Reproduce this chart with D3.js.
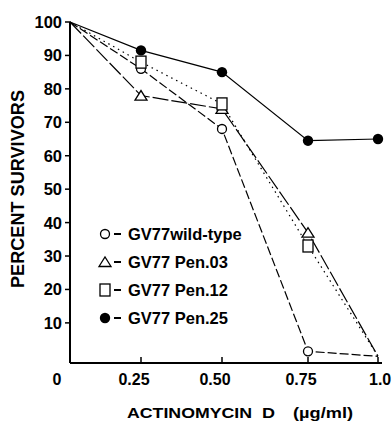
<!DOCTYPE html>
<html>
<head>
<meta charset="utf-8">
<script src="https://cdn.jsdelivr.net/npm/d3@7"></script>
<style>
  body { margin: 0; background: #fff; }
  svg { display: block; }
  text { font-family: "Liberation Sans", Arial, sans-serif; font-weight: bold; fill: #000; }
</style>
</head>
<body>
<div id="chart"></div>
<script>
// actinomycin D dose (ug/ml)
var doses = [0, 0.25, 0.5, 0.75, 1.0];
var xTicks = [0.25, 0.5, 0.75, 1.0];
var xTickLabels = ["0.25", "0.50", "0.75", "1.0"];
var yTicks = [10, 20, 30, 40, 50, 60, 70, 80, 90, 100];

// percent survivors per strain
var wildType = [100, 86, 68, 1.5, 0];
var pen03 = [100, 78, 74, 37, 0];
var pen12 = [100, 88, 75.5, 33, 0];
var pen25 = [100, 91.5, 85, 64.5, 65];

var seriesNames = ["GV77wild-type", "GV77 Pen.03", "GV77 Pen.12", "GV77 Pen.25"];

var width = 392, height = 421;

var svg = d3.select("#chart").append("svg")
    .attr("width", width)
    .attr("height", height);

// the printed axis is not evenly spaced, so use a piecewise scale
var x = d3.scaleLinear()
    .domain([0, 0.25, 0.5, 0.75, 1.0])
    .range([70, 141, 222, 308, 378]);

var y = d3.scaleLinear()
    .domain([-2, 100])
    .range([363, 22]);

var series = [
  { name: seriesNames[0], values: wildType, marker: "circle", dash: "9,3" },
  { name: seriesNames[1], values: pen03, marker: "triangle", dash: "16,3" },
  { name: seriesNames[2], values: pen12, marker: "square", dash: "1.5,4" },
  { name: seriesNames[3], values: pen25, marker: "dot", dash: null }
];

// axes
svg.append("line")
    .attr("x1", x(0)).attr("x2", x(0))
    .attr("y1", y(100)).attr("y2", y(-2))
    .attr("stroke", "#000").attr("stroke-width", 2);
svg.append("line")
    .attr("x1", x(0)).attr("x2", x(1) + 4)
    .attr("y1", y(-2)).attr("y2", y(-2))
    .attr("stroke", "#000").attr("stroke-width", 2);

svg.selectAll(".ytick")
    .data(yTicks)
  .enter().append("line")
    .attr("x1", x(0) - 5).attr("x2", x(0))
    .attr("y1", function(d) { return y(d); })
    .attr("y2", function(d) { return y(d); })
    .attr("stroke", "#000").attr("stroke-width", 1.5);

svg.selectAll(".ylabel")
    .data(yTicks)
  .enter().append("text")
    .attr("x", x(0) - 8)
    .attr("y", function(d) { return y(d); })
    .attr("dy", "0.36em")
    .attr("text-anchor", "end")
    .attr("font-size", 16.5)
    .text(function(d) { return d; });

svg.selectAll(".xtick")
    .data(xTicks)
  .enter().append("line")
    .attr("x1", function(d) { return x(d); })
    .attr("x2", function(d) { return x(d); })
    .attr("y1", y(-2) - 6).attr("y2", y(-2))
    .attr("stroke", "#000").attr("stroke-width", 1.5);

svg.selectAll(".xlabel")
    .data(xTicks)
  .enter().append("text")
    .attr("x", function(d, i) { return i == 3 ? x(d) - 9 : x(d) - 7; })
    .attr("y", 385)
    .attr("text-anchor", function(d, i) { return i == 3 ? "start" : "middle"; })
    .attr("font-size", 16)
    .text(function(d, i) { return xTickLabels[i]; });

svg.append("text")
    .attr("x", 57).attr("y", 385)
    .attr("text-anchor", "middle")
    .attr("font-size", 16)
    .text("0");

// axis titles
svg.append("text")
    .attr("transform", "translate(24,189) rotate(-90)")
    .attr("text-anchor", "middle")
    .attr("font-size", 18)
    .attr("textLength", 198)
    .attr("lengthAdjust", "spacingAndGlyphs")
    .text("PERCENT  SURVIVORS");

var xTitle = svg.append("g").attr("font-size", 15);
xTitle.append("text").attr("x", 127).attr("y", 418)
    .attr("textLength", 125).attr("lengthAdjust", "spacingAndGlyphs")
    .text("ACTINOMYCIN");
xTitle.append("text").attr("x", 262).attr("y", 418)
    .attr("textLength", 13).attr("lengthAdjust", "spacingAndGlyphs")
    .text("D");
xTitle.append("text").attr("x", 293).attr("y", 418)
    .attr("textLength", 60).attr("lengthAdjust", "spacingAndGlyphs")
    .text("(\u00b5g/ml)");

// lines
var line = d3.line()
    .x(function(d, i) { return x(doses[i]); })
    .y(function(d) { return y(d); });

svg.selectAll(".series")
    .data(series)
  .enter().append("path")
    .attr("d", function(s) { return line(s.values); })
    .attr("fill", "none")
    .attr("stroke", "#000")
    .attr("stroke-width", 1.2)
    .attr("stroke-dasharray", function(s) { return s.dash; });

function drawMarker(g, type, cx, cy) {
  if (type == "circle") {
    g.append("circle").attr("cx", cx).attr("cy", cy).attr("r", 4.5)
      .attr("fill", "#fff").attr("stroke", "#000").attr("stroke-width", 1.3);
  } else if (type == "dot") {
    g.append("circle").attr("cx", cx).attr("cy", cy).attr("r", 5.2)
      .attr("fill", "#000");
  } else if (type == "square") {
    g.append("rect").attr("x", cx - 5).attr("y", cy - 6).attr("width", 10).attr("height", 12)
      .attr("fill", "#fff").attr("stroke", "#000").attr("stroke-width", 1.3);
  } else if (type == "triangle") {
    g.append("path")
      .attr("d", "M" + (cx - 6) + "," + (cy + 4.5) + "L" + cx + "," + (cy - 5) + "L" + (cx + 6) + "," + (cy + 4.5) + "Z")
      .attr("fill", "#fff").attr("stroke", "#000").attr("stroke-width", 1.3);
  }
}

var marks = svg.append("g");
series.forEach(function(s) {
  s.values.forEach(function(v, i) {
    if (i == 0) return; // all curves start at the axis corner
    if (i == 4 && v <= 0) return; // zero points sit on the x axis
    drawMarker(marks, s.marker, x(doses[i]), y(v));
  });
});

// legend
var legendY = [234, 262, 290, 318];
var legend = svg.append("g");
series.forEach(function(s, i) {
  drawMarker(legend, s.marker, 105, legendY[i]);
  legend.append("line")
      .attr("x1", 114).attr("x2", 121)
      .attr("y1", legendY[i]).attr("y2", legendY[i])
      .attr("stroke", "#000").attr("stroke-width", 2);
  legend.append("text")
      .attr("x", 128).attr("y", legendY[i])
      .attr("dy", "0.36em")
      .attr("font-size", 16.5)
      .text(s.name);
});
</script>
</body>
</html>
